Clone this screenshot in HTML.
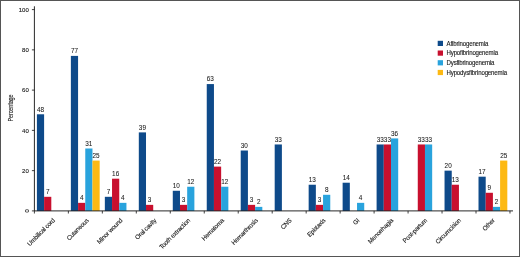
<!DOCTYPE html>
<html><head><meta charset="utf-8"><title>Chart</title>
<style>html,body{margin:0;padding:0;background:#fff}svg{display:block}</style></head>
<body>
<svg width="520" height="257" viewBox="0 0 520 257" font-family="Liberation Sans, Arial, sans-serif" font-size="6.3" letter-spacing="-0.16" fill="#1a1a1a" stroke="#1a1a1a" stroke-width="0.12">
<rect x="0.5" y="0.5" width="519" height="256" fill="#fff" stroke="#555" stroke-width="1"/>
<rect x="36.90" y="114.28" width="7.20" height="96.62" fill="#0e4a8a" stroke="none"/>
<text x="40.50" y="111.58" font-size="6.4" letter-spacing="0" stroke-width="0.06" text-anchor="middle">48</text>
<rect x="44.10" y="196.81" width="7.20" height="14.09" fill="#c8102e" stroke="none"/>
<text x="47.70" y="194.11" font-size="6.4" letter-spacing="0" stroke-width="0.06" text-anchor="middle">7</text>
<rect x="70.87" y="55.90" width="7.20" height="155.00" fill="#0e4a8a" stroke="none"/>
<text x="74.47" y="53.20" font-size="6.4" letter-spacing="0" stroke-width="0.06" text-anchor="middle">77</text>
<rect x="78.07" y="202.85" width="7.20" height="8.05" fill="#c8102e" stroke="none"/>
<text x="81.67" y="200.15" font-size="6.4" letter-spacing="0" stroke-width="0.06" text-anchor="middle">4</text>
<rect x="85.27" y="148.50" width="7.20" height="62.40" fill="#29a3dd" stroke="none"/>
<text x="88.87" y="145.80" font-size="6.4" letter-spacing="0" stroke-width="0.06" text-anchor="middle">31</text>
<rect x="92.47" y="160.58" width="7.20" height="50.32" fill="#fdb913" stroke="none"/>
<text x="96.07" y="157.88" font-size="6.4" letter-spacing="0" stroke-width="0.06" text-anchor="middle">25</text>
<rect x="104.84" y="196.81" width="7.20" height="14.09" fill="#0e4a8a" stroke="none"/>
<text x="108.44" y="194.11" font-size="6.4" letter-spacing="0" stroke-width="0.06" text-anchor="middle">7</text>
<rect x="112.04" y="178.69" width="7.20" height="32.21" fill="#c8102e" stroke="none"/>
<text x="115.64" y="175.99" font-size="6.4" letter-spacing="0" stroke-width="0.06" text-anchor="middle">16</text>
<rect x="119.24" y="202.85" width="7.20" height="8.05" fill="#29a3dd" stroke="none"/>
<text x="122.84" y="200.15" font-size="6.4" letter-spacing="0" stroke-width="0.06" text-anchor="middle">4</text>
<rect x="138.81" y="132.39" width="7.20" height="78.51" fill="#0e4a8a" stroke="none"/>
<text x="142.41" y="129.69" font-size="6.4" letter-spacing="0" stroke-width="0.06" text-anchor="middle">39</text>
<rect x="146.01" y="204.86" width="7.20" height="6.04" fill="#c8102e" stroke="none"/>
<text x="149.61" y="202.16" font-size="6.4" letter-spacing="0" stroke-width="0.06" text-anchor="middle">3</text>
<rect x="172.78" y="190.77" width="7.20" height="20.13" fill="#0e4a8a" stroke="none"/>
<text x="176.38" y="188.07" font-size="6.4" letter-spacing="0" stroke-width="0.06" text-anchor="middle">10</text>
<rect x="179.98" y="204.86" width="7.20" height="6.04" fill="#c8102e" stroke="none"/>
<text x="183.58" y="202.16" font-size="6.4" letter-spacing="0" stroke-width="0.06" text-anchor="middle">3</text>
<rect x="187.18" y="186.74" width="7.20" height="24.16" fill="#29a3dd" stroke="none"/>
<text x="190.78" y="184.04" font-size="6.4" letter-spacing="0" stroke-width="0.06" text-anchor="middle">12</text>
<rect x="206.75" y="84.08" width="7.20" height="126.82" fill="#0e4a8a" stroke="none"/>
<text x="210.35" y="81.38" font-size="6.4" letter-spacing="0" stroke-width="0.06" text-anchor="middle">63</text>
<rect x="213.95" y="166.61" width="7.20" height="44.29" fill="#c8102e" stroke="none"/>
<text x="217.55" y="163.91" font-size="6.4" letter-spacing="0" stroke-width="0.06" text-anchor="middle">22</text>
<rect x="221.15" y="186.74" width="7.20" height="24.16" fill="#29a3dd" stroke="none"/>
<text x="224.75" y="184.04" font-size="6.4" letter-spacing="0" stroke-width="0.06" text-anchor="middle">12</text>
<rect x="240.72" y="150.51" width="7.20" height="60.39" fill="#0e4a8a" stroke="none"/>
<text x="244.32" y="147.81" font-size="6.4" letter-spacing="0" stroke-width="0.06" text-anchor="middle">30</text>
<rect x="247.92" y="204.86" width="7.20" height="6.04" fill="#c8102e" stroke="none"/>
<text x="251.52" y="202.16" font-size="6.4" letter-spacing="0" stroke-width="0.06" text-anchor="middle">3</text>
<rect x="255.12" y="206.87" width="7.20" height="4.03" fill="#29a3dd" stroke="none"/>
<text x="258.72" y="204.17" font-size="6.4" letter-spacing="0" stroke-width="0.06" text-anchor="middle">2</text>
<rect x="274.69" y="144.47" width="7.20" height="66.43" fill="#0e4a8a" stroke="none"/>
<text x="278.29" y="141.77" font-size="6.4" letter-spacing="0" stroke-width="0.06" text-anchor="middle">33</text>
<rect x="308.66" y="184.73" width="7.20" height="26.17" fill="#0e4a8a" stroke="none"/>
<text x="312.26" y="182.03" font-size="6.4" letter-spacing="0" stroke-width="0.06" text-anchor="middle">13</text>
<rect x="315.86" y="204.86" width="7.20" height="6.04" fill="#c8102e" stroke="none"/>
<text x="319.46" y="202.16" font-size="6.4" letter-spacing="0" stroke-width="0.06" text-anchor="middle">3</text>
<rect x="323.06" y="194.80" width="7.20" height="16.10" fill="#29a3dd" stroke="none"/>
<text x="326.66" y="192.10" font-size="6.4" letter-spacing="0" stroke-width="0.06" text-anchor="middle">8</text>
<rect x="342.63" y="182.72" width="7.20" height="28.18" fill="#0e4a8a" stroke="none"/>
<text x="346.23" y="180.02" font-size="6.4" letter-spacing="0" stroke-width="0.06" text-anchor="middle">14</text>
<rect x="357.03" y="202.85" width="7.20" height="8.05" fill="#29a3dd" stroke="none"/>
<text x="360.63" y="200.15" font-size="6.4" letter-spacing="0" stroke-width="0.06" text-anchor="middle">4</text>
<rect x="376.60" y="144.47" width="7.20" height="66.43" fill="#0e4a8a" stroke="none"/>
<text x="380.20" y="141.77" font-size="6.4" letter-spacing="0" stroke-width="0.06" text-anchor="middle">33</text>
<rect x="383.80" y="144.47" width="7.20" height="66.43" fill="#c8102e" stroke="none"/>
<text x="387.40" y="141.77" font-size="6.4" letter-spacing="0" stroke-width="0.06" text-anchor="middle">33</text>
<rect x="391.00" y="138.43" width="7.20" height="72.47" fill="#29a3dd" stroke="none"/>
<text x="394.60" y="135.73" font-size="6.4" letter-spacing="0" stroke-width="0.06" text-anchor="middle">36</text>
<rect x="417.77" y="144.47" width="7.20" height="66.43" fill="#c8102e" stroke="none"/>
<text x="421.37" y="141.77" font-size="6.4" letter-spacing="0" stroke-width="0.06" text-anchor="middle">33</text>
<rect x="424.97" y="144.47" width="7.20" height="66.43" fill="#29a3dd" stroke="none"/>
<text x="428.57" y="141.77" font-size="6.4" letter-spacing="0" stroke-width="0.06" text-anchor="middle">33</text>
<rect x="444.54" y="170.64" width="7.20" height="40.26" fill="#0e4a8a" stroke="none"/>
<text x="448.14" y="167.94" font-size="6.4" letter-spacing="0" stroke-width="0.06" text-anchor="middle">20</text>
<rect x="451.74" y="184.73" width="7.20" height="26.17" fill="#c8102e" stroke="none"/>
<text x="455.34" y="182.03" font-size="6.4" letter-spacing="0" stroke-width="0.06" text-anchor="middle">13</text>
<rect x="478.51" y="176.68" width="7.20" height="34.22" fill="#0e4a8a" stroke="none"/>
<text x="482.11" y="173.98" font-size="6.4" letter-spacing="0" stroke-width="0.06" text-anchor="middle">17</text>
<rect x="485.71" y="192.78" width="7.20" height="18.12" fill="#c8102e" stroke="none"/>
<text x="489.31" y="190.08" font-size="6.4" letter-spacing="0" stroke-width="0.06" text-anchor="middle">9</text>
<rect x="492.91" y="206.87" width="7.20" height="4.03" fill="#29a3dd" stroke="none"/>
<text x="496.51" y="204.17" font-size="6.4" letter-spacing="0" stroke-width="0.06" text-anchor="middle">2</text>
<rect x="500.11" y="160.58" width="7.20" height="50.32" fill="#fdb913" stroke="none"/>
<text x="503.71" y="157.88" font-size="6.4" letter-spacing="0" stroke-width="0.06" text-anchor="middle">25</text>
<path d="M34.40 6.30 V210.90 H513" fill="none" stroke="#111" stroke-width="0.9"/>
<path d="M31.90 210.90 H34.40" stroke="#111" stroke-width="0.8"/>
<text transform="translate(29.10 210.90) rotate(-90)" font-size="6" text-anchor="middle">0</text>
<path d="M31.90 170.64 H34.40" stroke="#111" stroke-width="0.8"/>
<text x="28.80" y="172.79" font-size="6" letter-spacing="0" text-anchor="end">20</text>
<path d="M31.90 130.38 H34.40" stroke="#111" stroke-width="0.8"/>
<text x="28.80" y="132.53" font-size="6" letter-spacing="0" text-anchor="end">40</text>
<path d="M31.90 90.12 H34.40" stroke="#111" stroke-width="0.8"/>
<text x="28.80" y="92.27" font-size="6" letter-spacing="0" text-anchor="end">60</text>
<path d="M31.90 49.86 H34.40" stroke="#111" stroke-width="0.8"/>
<text x="28.80" y="52.01" font-size="6" letter-spacing="0" text-anchor="end">80</text>
<path d="M31.90 9.60 H34.40" stroke="#111" stroke-width="0.8"/>
<text x="28.80" y="11.75" font-size="6" letter-spacing="0" text-anchor="end">100</text>
<path d="M34.40 210.90 V213.50" stroke="#111" stroke-width="0.8"/>
<path d="M68.37 210.90 V213.50" stroke="#111" stroke-width="0.8"/>
<path d="M102.34 210.90 V213.50" stroke="#111" stroke-width="0.8"/>
<path d="M136.31 210.90 V213.50" stroke="#111" stroke-width="0.8"/>
<path d="M170.28 210.90 V213.50" stroke="#111" stroke-width="0.8"/>
<path d="M204.25 210.90 V213.50" stroke="#111" stroke-width="0.8"/>
<path d="M238.22 210.90 V213.50" stroke="#111" stroke-width="0.8"/>
<path d="M272.19 210.90 V213.50" stroke="#111" stroke-width="0.8"/>
<path d="M306.16 210.90 V213.50" stroke="#111" stroke-width="0.8"/>
<path d="M340.13 210.90 V213.50" stroke="#111" stroke-width="0.8"/>
<path d="M374.10 210.90 V213.50" stroke="#111" stroke-width="0.8"/>
<path d="M408.07 210.90 V213.50" stroke="#111" stroke-width="0.8"/>
<path d="M442.04 210.90 V213.50" stroke="#111" stroke-width="0.8"/>
<path d="M476.01 210.90 V213.50" stroke="#111" stroke-width="0.8"/>
<path d="M509.98 210.90 V213.50" stroke="#111" stroke-width="0.8"/>
<text transform="translate(55.20 220.90) rotate(-45) scale(0.97 1)" text-anchor="end">Umbilical cord</text>
<text transform="translate(89.04 220.90) rotate(-45) scale(0.97 1)" text-anchor="end">Cutaneous</text>
<text transform="translate(122.88 220.90) rotate(-45) scale(0.97 1)" text-anchor="end">Minor wound</text>
<text transform="translate(156.72 220.90) rotate(-45) scale(0.97 1)" text-anchor="end">Oral cavity</text>
<text transform="translate(190.56 220.90) rotate(-45) scale(0.97 1)" text-anchor="end">Tooth extraction</text>
<text transform="translate(224.40 220.90) rotate(-45) scale(0.97 1)" text-anchor="end">Hematoma</text>
<text transform="translate(258.24 220.90) rotate(-45) scale(0.97 1)" text-anchor="end">Hemarthrosis</text>
<text transform="translate(292.08 220.90) rotate(-45) scale(0.97 1)" text-anchor="end">CNS</text>
<text transform="translate(325.92 220.90) rotate(-45) scale(0.97 1)" text-anchor="end">Epistaxis</text>
<text transform="translate(359.76 220.90) rotate(-45) scale(0.97 1)" text-anchor="end">GI</text>
<text transform="translate(393.60 220.90) rotate(-45) scale(0.97 1)" text-anchor="end">Menorrhagia</text>
<text transform="translate(427.44 220.90) rotate(-45) scale(0.97 1)" text-anchor="end">Post-partum</text>
<text transform="translate(461.28 220.90) rotate(-45) scale(0.97 1)" text-anchor="end">Circumcision</text>
<text transform="translate(495.12 220.90) rotate(-45) scale(0.97 1)" text-anchor="end">Other</text>
<text transform="translate(13.2 108) rotate(-90) scale(0.8 1)" font-size="6.9" text-anchor="middle">Percentage</text>
<rect x="437.7" y="40.80" width="5.3" height="5.2" fill="#0e4a8a" stroke="none"/>
<text transform="translate(446.5 45.70) scale(0.97 1)">Afibrinogenemia</text>
<rect x="437.7" y="50.50" width="5.3" height="5.2" fill="#c8102e" stroke="none"/>
<text transform="translate(446.5 55.40) scale(0.97 1)">Hypofibrinogenemia</text>
<rect x="437.7" y="60.20" width="5.3" height="5.2" fill="#29a3dd" stroke="none"/>
<text transform="translate(446.5 65.10) scale(0.97 1)">Dysfibrinogenemia</text>
<rect x="437.7" y="69.90" width="5.3" height="5.2" fill="#fdb913" stroke="none"/>
<text transform="translate(446.5 74.80) scale(0.97 1)">Hypodysfibrinogenemia</text>
</svg>
</body></html>
